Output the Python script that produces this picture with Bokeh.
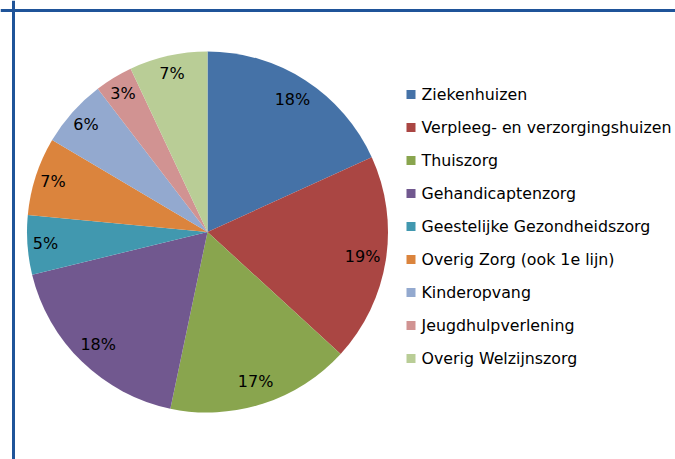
import math
from bokeh.plotting import figure
from bokeh.models import Range1d, Span, ColumnDataSource
from bokeh.core.properties import value
from bokeh.embed import file_html
from bokeh.resources import INLINE

categories = ["Ziekenhuizen", "Verpleeg- en verzorgingshuizen", "Thuiszorg",
              "Gehandicaptenzorg", "Geestelijke Gezondheidszorg",
              "Overig Zorg (ook 1e lijn)", "Kinderopvang", "Jeugdhulpverlening",
              "Overig Welzijnszorg"]
shares = [18.2, 18.6, 16.5, 17.9, 5.3, 7.0, 6.1, 3.4, 7.0]
colors = ["#4572A7", "#AA4643", "#89A54E", "#71588F", "#4198AF",
          "#DB843D", "#93A9CF", "#D19392", "#B9CD96"]

W, H = 675, 459
p = figure(width=W, height=H, output_backend="svg", toolbar_location=None,
           x_range=Range1d(0, W), y_range=Range1d(0, H),
           min_border=0)
p.axis.visible = False
p.grid.visible = False
p.outline_line_color = None
p.background_fill_color = "white"
p.border_fill_color = "white"

def Y(img_y):
    return H - img_y

cx, cy, r = 207, Y(231.5), 180.5
total = float(sum(shares))
starts, ends, lx, ly, labels = [], [], [], [], []
cum = 0.0
for v in shares:
    a0 = math.pi / 2 - 2 * math.pi * cum / total
    cum += v
    a1 = math.pi / 2 - 2 * math.pi * cum / total
    starts.append(a0)
    ends.append(a1)
    mid = (a0 + a1) / 2
    k = 0.87 if v / total >= 0.10 else 0.90
    lx.append(cx + k * r * math.cos(mid))
    ly.append(cy + k * r * math.sin(mid))
    labels.append(f"{int(math.floor(100 * v / total + 0.5))}%")

src = ColumnDataSource(dict(start=starts, end=ends, color=colors, cat=categories))
p.wedge(x=cx, y=cy, radius=r, start_angle="start", end_angle="end",
        direction="clock", fill_color="color", line_color=None, source=src)

p.text(x=lx, y=ly, text=labels, text_align="center", text_baseline="middle",
       text_font=value("DejaVu Sans"), text_font_size="16px", text_color="black")

# legend
row0, step = 94, 33
leg_y = [Y(row0 + i * step) for i in range(len(categories))]
p.rect(x=[410.5] * len(categories), y=leg_y, width=9, height=9,
       fill_color=colors, line_color=None)
p.text(x=[421] * len(categories), y=leg_y, text=categories,
       text_align="left", text_baseline="middle",
       text_font=value("DejaVu Sans"), text_font_size="15.8px", text_color="black")

# frame
p.add_layout(Span(location=Y(10), dimension="width", line_color="#1F5499", line_width=3))
p.add_layout(Span(location=13, dimension="height", line_color="#1F5499", line_width=3))

open("out.html", "w").write(file_html(p, INLINE))
